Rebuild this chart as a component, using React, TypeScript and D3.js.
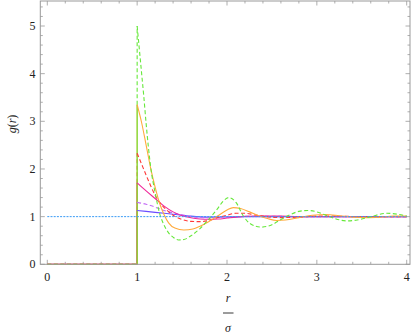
import * as d3 from 'd3'
import { FC } from 'react'

const W = 415
const H = 335
const FRAME = { left: 40.3, right: 410, top: 1, bottom: 264.3 }
const FONT = 'Liberation Serif, Times New Roman, Times, serif'

// r / sigma, g(r)
const green: [number, number][] = [
  [1.0, 5.0], [1.025, 4.5], [1.05, 4.0], [1.075, 3.5], [1.1, 2.95], [1.15, 2.05],
  [1.2, 1.5], [1.25, 1.07], [1.3, 0.82], [1.35, 0.66], [1.4, 0.57], [1.46, 0.51],
  [1.52, 0.52], [1.6, 0.6], [1.7, 0.75], [1.8, 0.95], [1.9, 1.18], [1.96, 1.33],
  [2.02, 1.4], [2.1, 1.3], [2.18, 1.02], [2.26, 0.85], [2.38, 0.78], [2.5, 0.83],
  [2.6, 0.94], [2.7, 1.04], [2.8, 1.11], [2.9, 1.13], [3.0, 1.1], [3.1, 1.03],
  [3.2, 0.96], [3.33, 0.91], [3.45, 0.93], [3.6, 1.0], [3.78, 1.07], [3.9, 1.05], [4.0, 1.01],
]
const orange: [number, number][] = [
  [1.0, 3.35], [1.05, 2.97], [1.1, 2.5], [1.15, 2.02], [1.2, 1.62], [1.25, 1.28],
  [1.3, 1.04], [1.35, 0.87], [1.42, 0.76], [1.52, 0.72], [1.62, 0.74], [1.7, 0.8],
  [1.8, 0.9], [1.9, 1.02], [2.0, 1.14], [2.07, 1.19], [2.15, 1.17], [2.25, 1.1],
  [2.35, 1.02], [2.45, 0.96], [2.55, 0.92], [2.65, 0.93], [2.8, 0.98], [2.95, 1.03],
  [3.1, 1.045], [3.25, 1.02], [3.4, 0.99], [3.55, 0.98], [3.7, 0.99], [3.85, 1.01], [4.0, 1.01],
]
const red: [number, number][] = [
  [1.0, 2.33], [1.05, 2.1], [1.1, 1.87], [1.15, 1.65], [1.2, 1.45], [1.25, 1.3],
  [1.3, 1.19], [1.4, 1.03], [1.5, 0.94], [1.6, 0.9], [1.7, 0.895], [1.8, 0.92],
  [1.9, 0.98], [2.0, 1.03], [2.1, 1.07], [2.2, 1.07], [2.3, 1.04], [2.4, 1.01],
  [2.5, 0.985], [2.6, 0.98], [2.8, 0.99], [3.0, 1.01], [3.2, 1.01], [3.5, 1.0], [4.0, 1.0],
]
const magenta: [number, number][] = [
  [1.0, 1.71], [1.1, 1.54], [1.2, 1.38], [1.3, 1.22], [1.4, 1.1], [1.5, 1.02],
  [1.6, 0.975], [1.7, 0.952], [1.8, 0.945], [1.9, 0.95], [2.0, 0.97], [2.1, 0.99],
  [2.2, 1.005], [2.4, 1.015], [2.6, 1.01], [2.8, 1.0], [3.0, 1.0], [4.0, 1.0],
]
const violet: [number, number][] = [
  [1.0, 1.3], [1.1, 1.26], [1.2, 1.2], [1.3, 1.13], [1.4, 1.08], [1.5, 1.04],
  [1.6, 1.0], [1.7, 0.982], [1.8, 0.976], [1.9, 0.98], [2.0, 0.99], [2.2, 1.005],
  [2.4, 1.01], [2.6, 1.005], [3.0, 1.0], [4.0, 1.0],
]
const blue: [number, number][] = [
  [1.0, 1.13], [1.1, 1.11], [1.2, 1.09], [1.3, 1.07], [1.4, 1.05], [1.5, 1.03],
  [1.6, 1.01], [1.7, 0.995], [1.8, 0.99], [1.9, 0.99], [2.0, 0.995], [2.2, 1.0], [4.0, 1.0],
]
const idealGas: [number, number][] = [[0, 1], [4, 1]]

const X_TICKS = [0, 1, 2, 3, 4]
const Y_TICKS = [0, 1, 2, 3, 4, 5]

const SERIES = [
  { data: blue, color: '#6a4cff', dash: null },
  { data: violet, color: '#c46cf5', dash: '4,2.5' },
  { data: magenta, color: '#f0289a', dash: null },
  { data: red, color: '#ff3838', dash: '4,2.5' },
  { data: orange, color: '#ffaa3c', dash: null },
  { data: green, color: '#66e83a', dash: '4,2.5' },
]

const App: FC = () => {
  const xScale = d3.scaleLinear().domain([0, 4]).range([47.3, 406.7])
  const yScale = d3.scaleLinear().domain([0, 5]).range([264.3, 26])

  const straight = d3.line<[number, number]>()
    .x((d) => xScale(d[0]))
    .y((d) => yScale(d[1]))
  const smoothLine = d3.line<[number, number]>()
    .x((d) => xScale(d[0]))
    .y((d) => yScale(d[1]))
    .curve(d3.curveMonotoneX)

  const xMinor = d3.range(0, 4.01, 0.2)
  const yMinor = d3.range(0, 5.41, 0.2)
  const frameColor = '#999'
  const textStyle = { fontFamily: FONT }

  return (
    <svg width={ W } height={ H } style={ { position: 'absolute', left: 0, top: 0 } }>
      <rect x={ 0 } y={ 0 } width={ W } height={ H } fill='white' />

      {/* ticks, inward on all sides */}
      <g stroke={ frameColor } strokeWidth={ 0.8 }>
        { xMinor.map((t, i) => {
          const major = Math.abs(t - Math.round(t)) < 1e-6
          const len = major ? 4.5 : 2.5
          return (
            <g key={ 'x' + i }>
              <line x1={ xScale(t) } x2={ xScale(t) } y1={ FRAME.bottom } y2={ FRAME.bottom - len } />
              <line x1={ xScale(t) } x2={ xScale(t) } y1={ FRAME.top } y2={ FRAME.top + len } />
            </g>
          )
        }) }
        { yMinor.map((t, i) => {
          const major = Math.abs(t - Math.round(t)) < 1e-6
          const len = major ? 4.5 : 2.5
          return (
            <g key={ 'y' + i }>
              <line x1={ FRAME.left } x2={ FRAME.left + len } y1={ yScale(t) } y2={ yScale(t) } />
              <line x1={ FRAME.right } x2={ FRAME.right - len } y1={ yScale(t) } y2={ yScale(t) } />
            </g>
          )
        }) }
      </g>

      {/* zero part of every curve, r < sigma */}
      { SERIES.map((s, i) => (
        <path key={ 'z' + i } d={ straight([[0, 0], [1, 0]]) as string } fill='none'
          stroke={ s.color } strokeWidth={ 1.1 } strokeDasharray={ s.dash ?? undefined } />
      )) }
      {/* jump at contact: solid where it overlaps lower jumps, own dash above */}
      { SERIES.map((s, i) => {
        const below = i > 0 ? SERIES[i - 1].data[0][1] : 0
        return (
          <g key={ 'v' + i }>
            <path d={ straight([[1, 0], [1, below]]) as string } fill='none' stroke={ s.color } strokeWidth={ 1.1 } />
            <path d={ straight([[1, below], s.data[0]]) as string } fill='none' stroke={ s.color }
              strokeWidth={ 1.1 } strokeDasharray={ s.dash ?? undefined } />
          </g>
        )
      }) }
      { SERIES.map((s, i) => (
        <path key={ i } d={ smoothLine(s.data) as string } fill='none' stroke={ s.color }
          strokeWidth={ 1.1 } strokeDasharray={ s.dash ?? undefined } />
      )) }

      <path d={ straight(idealGas) as string } stroke='#3a9bf5' strokeWidth={ 1 }
        strokeDasharray='2,1.2' fill='none' />

      <rect x={ FRAME.left } y={ FRAME.top } width={ FRAME.right - FRAME.left }
        height={ FRAME.bottom - FRAME.top } fill='none' stroke={ frameColor } strokeWidth={ 1 } />

      { X_TICKS.map((t) => (
        <text key={ t } x={ xScale(t) } y={ 281 } textAnchor='middle' fontSize={ 12 } fill='#222' style={ textStyle }>{ t }</text>
      )) }
      { Y_TICKS.map((t) => (
        <text key={ t } x={ 35.5 } y={ yScale(t) + 4 } textAnchor='end' fontSize={ 12 } fill='#222' style={ textStyle }>{ t }</text>
      )) }

      <text transform='translate(16,124) rotate(-90)' textAnchor='middle' fontSize={ 12 } fill='#222' style={ textStyle }>
        <tspan fontStyle='italic'>g</tspan>(<tspan fontStyle='italic'>r</tspan>)
      </text>

      <text x={ 228 } y={ 302 } textAnchor='middle' fontSize={ 12 } fontStyle='italic' fill='#222' style={ textStyle }>r</text>
      <line x1={ 223 } x2={ 233.5 } y1={ 313 } y2={ 313 } stroke='#222' strokeWidth={ 0.9 } />
      <text x={ 228 } y={ 332 } textAnchor='middle' fontSize={ 12 } fontStyle='italic' fill='#222' style={ textStyle }>σ</text>
    </svg>
  )
}

export default App
